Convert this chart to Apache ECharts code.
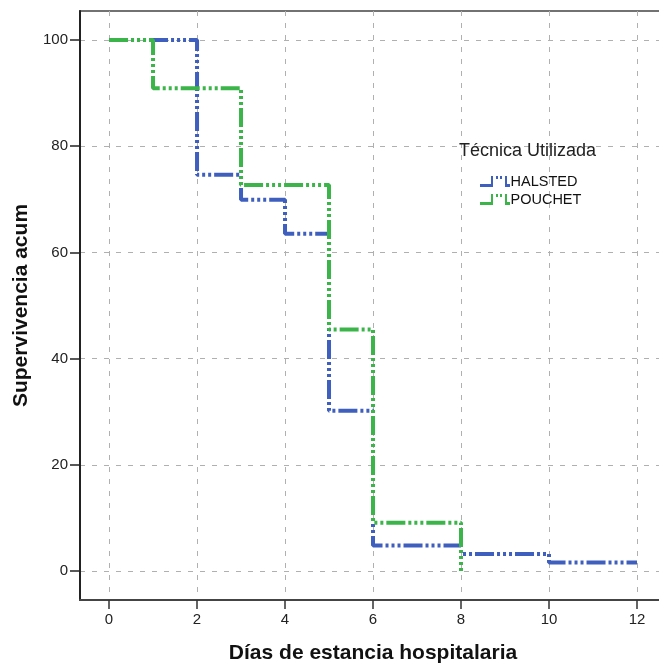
<!DOCTYPE html>
<html>
<head>
<meta charset="utf-8">
<script src="https://cdn.jsdelivr.net/npm/echarts@6/dist/echarts.min.js"></script>
<style>html,body{margin:0;padding:0;background:#fff}#c{width:659px;height:666px}</style>
</head>
<body>
<div id="c"></div>
<script>
// Data
const seriesNames = ['HALSTED', 'POUCHET'];
const halstedDays = [0, 2, 3, 4, 5, 6, 8, 10, 12];
const halstedSurv = [100, 74.6, 69.9, 63.5, 30.2, 4.8, 3.2, 1.6, 1.6];
const pouchetDays = [0, 1, 3, 5, 6, 8];
const pouchetSurv = [100, 90.9, 72.7, 45.5, 9.1, 0];
const xTicks = [0, 2, 4, 6, 8, 10, 12];
const yTicks = [0, 20, 40, 60, 80, 100];
const legendTitle = 'Técnica Utilizada';
const xName = 'Días de estancia hospitalaria';
const yName = 'Supervivencia acum';

const colors = ['#3e5fbd', '#3bb54a'];
const dashPattern = [19, 3, 3, 3, 3, 3, 3, 3];
const iconPath = 'path://M0,8L11,8L11,0L13,0L13,11L0,11Z M16,0L18,0L18,3L16,3Z M20,0L22,0L22,3L20,3Z M25,0L27,0L27,8L30,8L30,11L25,11Z';
const FONT = 'Liberation Sans, Arial, sans-serif';

function pairs(xs, ys) { return xs.map((x, i) => [x, ys[i]]); }

const chart = echarts.init(document.getElementById('c'), null, {renderer: 'canvas'});
chart.setOption({
  animation: false,
  backgroundColor: '#fff',
  textStyle: {fontFamily: FONT},
  title: {
    text: legendTitle, left: 454, top: 137,
    textStyle: {fontSize: 18, fontWeight: 'normal', color: '#222', fontFamily: FONT}
  },
  legend: {
    orient: 'vertical', left: 475, top: 169,
    itemWidth: 31, itemHeight: 11, itemGap: 3,
    icon: iconPath,
    textStyle: {fontSize: 14.5, color: '#111', padding: [0, 0, 0, -5], fontFamily: FONT},
    itemStyle: {borderWidth: 0},
    data: seriesNames
  },
  grid: {left: 80, right: -12, top: 11, bottom: 66, outerBoundsMode: 'none', containLabel: false,
    show: true, borderColor: '#444', borderWidth: 1.5, backgroundColor: 'transparent'},
  xAxis: {
    type: 'value', min: -0.66, max: 12.773,
    name: xName, nameLocation: 'middle', nameGap: 43,
    nameTextStyle: {fontSize: 21, fontWeight: 'bold', color: '#111', fontFamily: FONT, padding: [0, 5, 0, 0]},
    axisLine: {show: true, onZero: false, lineStyle: {color: '#444', width: 2}},
    axisTick: {show: true, length: 9, customValues: xTicks, lineStyle: {color: '#333', width: 1.5}},
    axisLabel: {customValues: xTicks, fontSize: 15, color: '#222', margin: 12, fontFamily: FONT},
    splitLine: {show: true, lineStyle: {color: '#b0b0b0', type: [5, 7], width: 1}}
  },
  yAxis: {
    type: 'value', min: -5.46, max: 105.46,
    name: yName, nameLocation: 'middle', nameGap: 44,
    nameTextStyle: {fontSize: 21, fontWeight: 'bold', color: '#111', fontFamily: FONT},
    axisLine: {show: true, onZero: false, lineStyle: {color: '#222', width: 2}},
    axisTick: {show: true, length: 10, customValues: yTicks, lineStyle: {color: '#222', width: 1.5}},
    axisLabel: {customValues: yTicks, fontSize: 15, color: '#222', margin: 12, fontFamily: FONT},
    splitLine: {show: true, lineStyle: {color: '#b0b0b0', type: [5, 7], width: 1}}
  },
  series: [
    {
      name: seriesNames[0], type: 'line', step: 'end', symbol: 'none',
      data: pairs(halstedDays, halstedSurv),
      itemStyle: {color: colors[0]},
      lineStyle: {color: colors[0], width: 4, type: dashPattern}
    },
    {
      name: seriesNames[1], type: 'line', step: 'end', symbol: 'none',
      data: pairs(pouchetDays, pouchetSurv),
      itemStyle: {color: colors[1]},
      lineStyle: {color: colors[1], width: 4, type: dashPattern}
    }
  ]
});
</script>
</body>
</html>
